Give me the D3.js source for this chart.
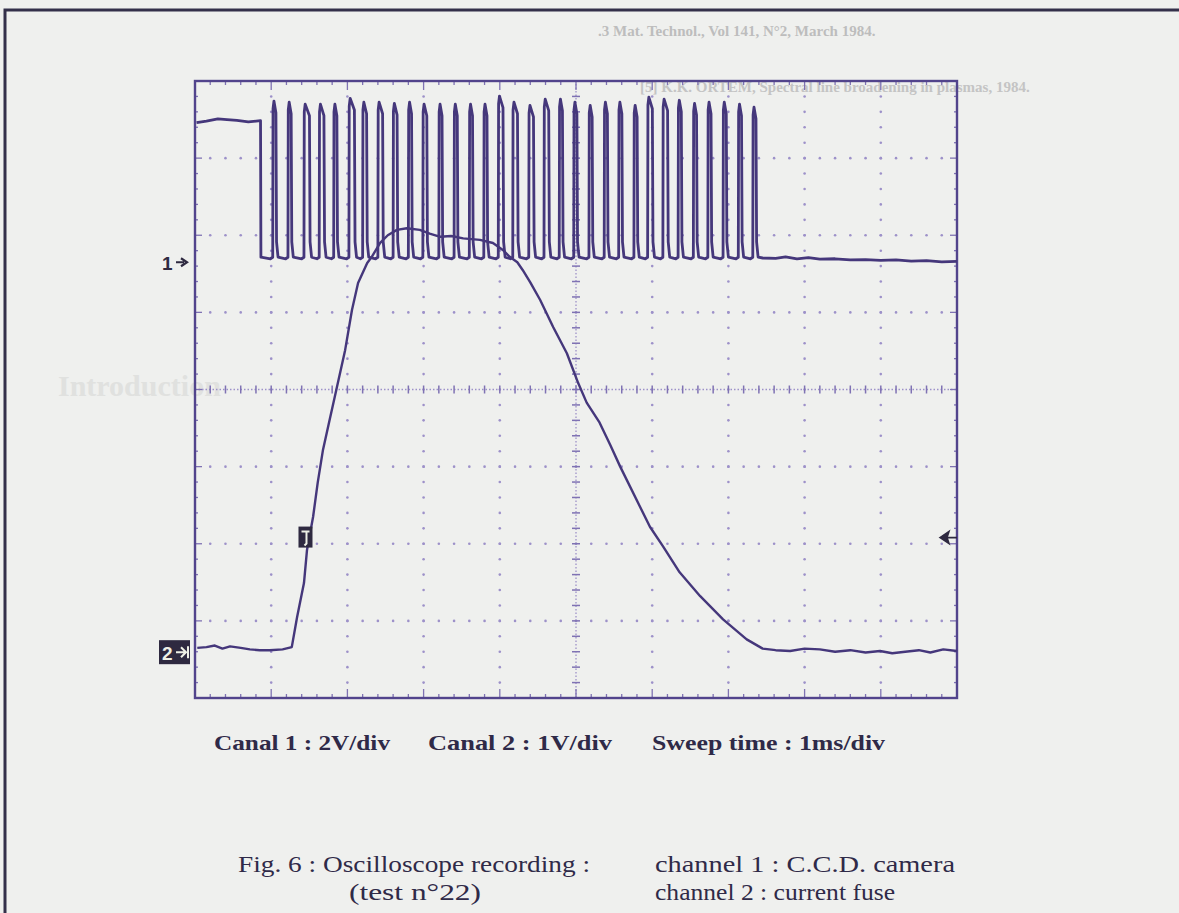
<!DOCTYPE html>
<html>
<head>
<meta charset="utf-8">
<script src="https://cdn.jsdelivr.net/npm/d3@7"></script>
<style>
  body { margin: 0; background: #eff0ee; }
  svg { display: block; }
</style>
</head>
<body>
<div id="chart"></div>
<script>
// Scope settings
const ch1VoltsPerDiv = 2;     // Canal 1 : 2V/div
const ch2VoltsPerDiv = 1;     // Canal 2 : 1V/div
const ch1Ground = 1.65;       // ground marker "1 ->" in divisions from centre
const ch2Ground = -3.38;      // ground marker "2" in divisions from centre
const triggerTime = 1.45;     // "T" marker (ms)
const triggerLevel = -1.92;   // divisions

// Channel 1 : C.C.D. camera (ms, V)
const ch1HeadTime = [0.02, 0.15, 0.3, 0.42, 0.55, 0.7, 0.86];
const ch1HeadVolt = [3.62, 3.66, 3.72, 3.70, 3.68, 3.64, 3.67];
const ch1LowVolt = 0.13;
const pulseTime = [1.02, 1.22, 1.43, 1.63, 1.82, 2.02, 2.20, 2.40, 2.60, 2.80, 2.99,
  3.20, 3.40, 3.60, 3.79, 3.98, 4.17, 4.38, 4.58, 4.78, 4.97, 5.17, 5.37, 5.56,
  5.76, 5.94, 6.14, 6.34, 6.54, 6.73, 6.93, 7.13, 7.32];
const pulseTop = [4.18, 4.15, 4.10, 4.10, 4.10, 4.25, 4.15, 4.15, 4.12, 4.15, 4.10,
  4.10, 4.10, 4.10, 4.10, 4.31, 4.15, 4.07, 4.23, 4.23, 4.15, 4.07, 4.15, 4.15,
  4.07, 4.28, 4.23, 4.20, 4.12, 4.15, 4.15, 4.10, 4.02];
const pulseWidth = [0.05, 0.05, 0.08, 0.07, 0.05, 0.08, 0.06, 0.07, 0.06, 0.05, 0.06,
  0.05, 0.05, 0.05, 0.05, 0.07, 0.07, 0.07, 0.07, 0.05, 0.05, 0.05, 0.05, 0.05,
  0.05, 0.07, 0.07, 0.05, 0.05, 0.05, 0.05, 0.05, 0.05];
const ch1TailTime = [7.45, 7.62, 7.75, 7.9, 8.05, 8.2, 8.4, 8.6, 8.8, 9.0, 9.2, 9.4, 9.6, 9.8, 10];
const ch1TailVolt = [0.11, 0.10, 0.14, 0.09, 0.12, 0.08, 0.09, 0.06, 0.07, 0.05, 0.06, 0.03, 0.04, 0.01, 0.02];

// Channel 2 : current fuse (ms, V)
const ch2Time = [0.03, 0.15, 0.26, 0.36, 0.46, 0.6, 0.72, 0.85, 0.98, 1.15, 1.27,
  1.34, 1.43, 1.47, 1.55, 1.61, 1.68, 1.77, 1.86, 1.97, 2.06, 2.14, 2.26, 2.32,
  2.43, 2.53, 2.65, 2.78, 2.95, 3.08, 3.22, 3.36, 3.52, 3.74, 3.91, 4.04, 4.13,
  4.23, 4.30, 4.40, 4.53, 4.70, 4.88, 5.03, 5.14, 5.31, 5.45, 5.58, 5.84, 5.97,
  6.14, 6.36, 6.63, 6.93, 7.24, 7.45, 7.62, 7.81, 8.0, 8.2, 8.4, 8.6, 8.8, 8.99,
  9.15, 9.32, 9.5, 9.65, 9.82, 10];
const ch2Volt = [0.03, 0.04, 0.06, 0.02, 0.05, 0.03, 0.01, 0.0, 0.0, 0.01, 0.04,
  0.43, 0.87, 1.30, 1.73, 2.17, 2.60, 3.00, 3.40, 3.89, 4.41, 4.76, 5.02, 5.10,
  5.28, 5.38, 5.45, 5.47, 5.45, 5.40, 5.36, 5.37, 5.34, 5.32, 5.28, 5.19, 5.10,
  5.03, 4.93, 4.77, 4.54, 4.19, 3.85, 3.46, 3.21, 2.95, 2.66, 2.38, 1.86, 1.60,
  1.35, 1.01, 0.70, 0.40, 0.14, 0.02, 0.0, -0.01, 0.02, 0.01, -0.02, 0.0, -0.03,
  -0.01, -0.04, -0.02, 0.0, -0.03, 0.01, -0.01];

// Texts
const captionTop = ["Canal 1 : 2V/div", "Canal 2 : 1V/div", "Sweep time : 1ms/div"];
const captionFig = ["Fig. 6 : Oscilloscope recording :", "(test n°22)"];
const captionChannels = ["channel 1 : C.C.D. camera", "channel 2 : current fuse"];

const W = 1179, H = 913;
const svg = d3.select("#chart").append("svg")
  .attr("width", W)
  .attr("height", H);

svg.append("rect").attr("width", W).attr("height", H).attr("fill", "#eff0ee");

// faint bleed-through of the facing page
const ghost = svg.append("g").attr("font-family", "Liberation Serif").attr("fill", "#bdbdbd");
ghost.append("text").attr("x", 598).attr("y", 36).attr("font-size", 15).attr("font-weight", "bold")
  .text(".3 Mat. Technol., Vol 141, N°2, March 1984.");
ghost.append("text").attr("x", 640).attr("y", 92).attr("font-size", 15).attr("font-weight", "bold")
  .attr("fill", "#c4c4c4").text("[5] K.K. ORTEM, Spectral line broadening in plasmas, 1984.");
ghost.append("text").attr("x", 58).attr("y", 396).attr("font-size", 30).attr("font-weight", "bold")
  .attr("fill", "#e0e1df").text("Introduction");

// outer frame of the scanned figure
svg.append("path")
  .attr("d", "M5,913 L5,10 L1179,10")
  .attr("fill", "none")
  .attr("stroke", "#34304a")
  .attr("stroke-width", 3);

const x = d3.scaleLinear().domain([0, 10]).range([195, 957]);
const y = d3.scaleLinear().domain([-4, 4]).range([698, 81]);

const gridColor = "#9d91c9";
const frameColor = "#52448c";
const traceColor = "#45377b";

const grat = svg.append("g");
const minorX = d3.range(0, 10.001, 0.2);
const minorY = d3.range(-4, 4.001, 0.2);
const isMajor = v => Math.abs(v - Math.round(v)) < 1e-6;

// dotted division lines
d3.range(1, 10).filter(k => k !== 5).forEach(k => {
  grat.append("g").selectAll("circle").data(minorY.slice(1, -1)).join("circle")
    .attr("cx", x(k)).attr("cy", d => y(d)).attr("r", 1.3).attr("fill", gridColor);
});
d3.range(-3, 4).filter(k => k !== 0).forEach(k => {
  grat.append("g").selectAll("circle").data(minorX.slice(1, -1)).join("circle")
    .attr("cx", d => x(d)).attr("cy", y(k)).attr("r", 1.3).attr("fill", gridColor);
});

// centre axes with minor ticks
grat.append("line").attr("x1", x(0)).attr("x2", x(10)).attr("y1", y(0)).attr("y2", y(0))
  .attr("stroke", gridColor).attr("stroke-width", 1.3).attr("stroke-dasharray", "1.5,2");
grat.append("line").attr("x1", x(5)).attr("x2", x(5)).attr("y1", y(-4)).attr("y2", y(4))
  .attr("stroke", gridColor).attr("stroke-width", 1.3).attr("stroke-dasharray", "1.5,2");
grat.append("g").selectAll("line").data(minorX).join("line")
  .attr("x1", d => x(d)).attr("x2", d => x(d))
  .attr("y1", y(0) - 4).attr("y2", y(0) + 4)
  .attr("stroke", "#7f72b3").attr("stroke-width", 1.5);
grat.append("g").selectAll("line").data(minorY).join("line")
  .attr("y1", d => y(d)).attr("y2", d => y(d))
  .attr("x1", x(5) - 4).attr("x2", x(5) + 4)
  .attr("stroke", "#7f72b3").attr("stroke-width", 1.5);

// border ticks
grat.append("g").selectAll("line").data(minorX).join("line")
  .attr("x1", d => x(d)).attr("x2", d => x(d))
  .attr("y1", y(-4)).attr("y2", d => y(-4) - (isMajor(d) ? 9 : 4))
  .attr("stroke", "#7f72b3").attr("stroke-width", 1.3);
grat.append("g").selectAll("line").data(minorX).join("line")
  .attr("x1", d => x(d)).attr("x2", d => x(d))
  .attr("y1", y(4)).attr("y2", d => y(4) + (isMajor(d) ? 9 : 4))
  .attr("stroke", "#7f72b3").attr("stroke-width", 1.3);
grat.append("g").selectAll("line").data(minorY).join("line")
  .attr("y1", d => y(d)).attr("y2", d => y(d))
  .attr("x1", x(0)).attr("x2", d => x(0) + (isMajor(d) ? 7 : 3))
  .attr("stroke", "#7f72b3").attr("stroke-width", 1.3);
grat.append("g").selectAll("line").data(minorY).join("line")
  .attr("y1", d => y(d)).attr("y2", d => y(d))
  .attr("x1", x(10)).attr("x2", d => x(10) - (isMajor(d) ? 7 : 3))
  .attr("stroke", "#7f72b3").attr("stroke-width", 1.3);

grat.append("rect")
  .attr("x", x(0)).attr("y", y(4))
  .attr("width", x(10) - x(0)).attr("height", y(-4) - y(4))
  .attr("fill", "none").attr("stroke", frameColor).attr("stroke-width", 2.4);

// traces
const ch1Div = v => ch1Ground + v / ch1VoltsPerDiv;
const ch2Div = v => ch2Ground + v / ch2VoltsPerDiv;

const ch1Points = [];
ch1HeadTime.forEach((t, i) => ch1Points.push([t, ch1HeadVolt[i]]));
ch1Points.push([0.865, ch1LowVolt]);
pulseTime.forEach((t, i) => {
  const top = pulseTop[i], w = pulseWidth[i];
  ch1Points.push([t - 0.03, ch1LowVolt - 0.04]);
  ch1Points.push([t, ch1LowVolt]);
  ch1Points.push([t + 0.004, top - 0.2]);
  ch1Points.push([t + 0.016, top]);
  ch1Points.push([t + w - 0.008, top - 0.3]);
  ch1Points.push([t + w, ch1LowVolt + 0.4]);
  ch1Points.push([t + w + 0.02, ch1LowVolt]);
});
ch1TailTime.forEach((t, i) => ch1Points.push([t, ch1TailVolt[i]]));

const line = d3.line().x(d => x(d[0])).y(d => y(d[1]));

svg.append("path")
  .datum(ch1Points.map(p => [p[0], ch1Div(p[1])]))
  .attr("d", line)
  .attr("fill", "none")
  .attr("stroke", traceColor)
  .attr("stroke-width", 2.8)
  .attr("stroke-linejoin", "round");

svg.append("path")
  .datum(ch2Time.map((t, i) => [t, ch2Div(ch2Volt[i])]))
  .attr("d", line)
  .attr("fill", "none")
  .attr("stroke", traceColor)
  .attr("stroke-width", 2.4)
  .attr("stroke-linejoin", "round");

// channel markers
const markColor = "#2e2940";
svg.append("text")
  .attr("x", 162).attr("y", y(ch1Ground) + 8)
  .attr("font-family", "Liberation Sans").attr("font-weight", "bold").attr("font-size", 19)
  .attr("fill", markColor).text("1");
svg.append("path")
  .attr("d", `M176,${y(ch1Ground)} L184,${y(ch1Ground)} M181,${y(ch1Ground) - 4} L187,${y(ch1Ground)} L181,${y(ch1Ground) + 4}`)
  .attr("fill", "none").attr("stroke", markColor).attr("stroke-width", 2.2);

const g2 = y(ch2Ground);
svg.append("rect").attr("x", 159).attr("y", g2 - 10).attr("width", 31).attr("height", 24)
  .attr("fill", markColor);
svg.append("text").attr("x", 162).attr("y", g2 + 10)
  .attr("font-family", "Liberation Sans").attr("font-weight", "bold").attr("font-size", 19)
  .attr("fill", "#eef0e6").text("2");
svg.append("path")
  .attr("d", `M176,${g2 + 2} L186,${g2 + 2} M181,${g2 - 3} L186,${g2 + 2} L181,${g2 + 7} M188,${g2 - 4} L188,${g2 + 8}`)
  .attr("fill", "none").attr("stroke", "#eef0e6").attr("stroke-width", 2);

// trigger marker
const tx = x(triggerTime), ty = y(triggerLevel);
svg.append("rect").attr("x", tx - 7).attr("y", ty - 11).attr("width", 14).attr("height", 21)
  .attr("fill", markColor);
svg.append("path")
  .attr("d", `M${tx - 4},${ty - 6} L${tx + 4},${ty - 6} M${tx + 1},${ty - 6} L${tx + 1},${ty + 6} L${tx - 1},${ty + 8}`)
  .attr("fill", "none").attr("stroke", "#eef0e6").attr("stroke-width", 2);

// trigger level arrow on the right edge
svg.append("path")
  .attr("d", `M${x(10) - 17},${ty} L${x(10) - 8},${ty - 6} L${x(10) - 10},${ty} L${x(10) - 8},${ty + 6} Z M${x(10) - 10},${ty} L${x(10)},${ty}`)
  .attr("fill", markColor).attr("stroke", markColor).attr("stroke-width", 1.6);

// captions
const cap = svg.append("g").attr("font-family", "Liberation Serif").attr("fill", "#2f2a48");
const capTopX = [214, 428, 652];
const capTopW = [176, 184, 233];
captionTop.forEach((t, i) => {
  cap.append("text").attr("x", capTopX[i]).attr("y", 750)
    .attr("font-size", 21).attr("font-weight", "bold")
    .attr("textLength", capTopW[i]).attr("lengthAdjust", "spacingAndGlyphs")
    .text(t);
});
const figX = [238, 349], figW = [352, 132];
const chanX = [655, 655], chanW = [300, 240];
captionFig.forEach((t, i) => {
  cap.append("text").attr("x", figX[i]).attr("y", 872 + i * 28).attr("font-size", 24)
    .attr("textLength", figW[i]).attr("lengthAdjust", "spacingAndGlyphs").text(t);
});
captionChannels.forEach((t, i) => {
  cap.append("text").attr("x", chanX[i]).attr("y", 872 + i * 28).attr("font-size", 24)
    .attr("textLength", chanW[i]).attr("lengthAdjust", "spacingAndGlyphs").text(t);
});
</script>
</body>
</html>
